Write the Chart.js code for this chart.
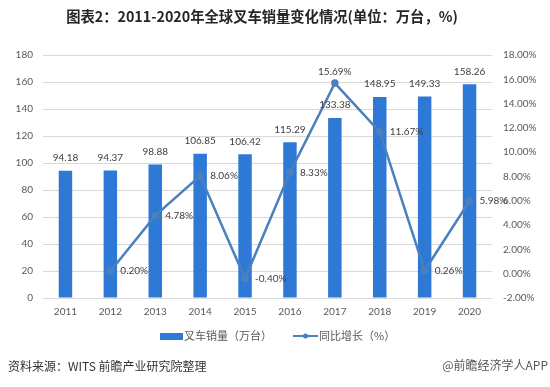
<!DOCTYPE html>
<html>
<head>
<meta charset="utf-8">
<script src="https://cdn.jsdelivr.net/npm/chart.js@4.4.0/dist/chart.umd.min.js"></script>
<style>
  body { margin: 0; background: #fff; }
  #wrap { width: 550px; height: 387px; }
</style>
</head>
<body>
<div id="wrap"><canvas id="myChart" width="550" height="387"></canvas></div>
<script>
const years = ['2011', '2012', '2013', '2014', '2015', '2016', '2017', '2018', '2019', '2020'];
const sales = [94.18, 94.37, 98.88, 106.85, 106.42, 115.29, 133.38, 148.95, 149.33, 158.26];
const growth = [null, 0.20, 4.78, 8.06, -0.40, 8.33, 15.69, 11.67, 0.26, 5.98];

const BAR_COLOR = '#2e78d6';
const LINE_COLOR = '#4a80bd';
const FONT = "Lato, 'Noto Sans CJK SC', sans-serif";
const CJK = "'Noto Sans CJK SC', Lato, sans-serif";

Chart.defaults.font.family = FONT;

const extras = {
  id: 'extras',
  afterDatasetsDraw(chart) {
    const ctx = chart.ctx;
    ctx.save();
    ctx.font = '10px ' + FONT;
    ctx.fillStyle = '#404040';
    ctx.textBaseline = 'middle';

    // bar values
    ctx.textAlign = 'center';
    chart.getDatasetMeta(1).data.forEach((el, i) => {
      ctx.fillText(sales[i].toFixed(2), el.x, el.y - 13);
    });

    // growth labels, 2017 sits above its point
    chart.getDatasetMeta(0).data.forEach((el, i) => {
      if (growth[i] == null) return;
      const txt = growth[i].toFixed(2) + '%';
      if (i === 6) {
        ctx.textAlign = 'center';
        ctx.fillText(txt, el.x, el.y - 11);
      } else {
        ctx.textAlign = 'left';
        ctx.fillText(txt, el.x + 10, el.y);
      }
    });
    ctx.restore();
  },
  afterDraw(chart) {
    const ctx = chart.ctx;
    ctx.save();

    // title
    ctx.fillStyle = '#262626';
    ctx.font = 'bold 14.3px ' + CJK;
    ctx.textAlign = 'center';
    ctx.textBaseline = 'middle';
    ctx.fillText('图表2：2011-2020年全球叉车销量变化情况(单位：万台，%)', 262, 17);

    // legend
    const ly = 336;
    ctx.fillStyle = BAR_COLOR;
    ctx.fillRect(160, ly - 3, 23, 7);
    ctx.fillStyle = '#595959';
    ctx.font = '11px ' + CJK;
    ctx.textAlign = 'left';
    ctx.fillText('叉车销量（万台）', 184, ly);

    ctx.strokeStyle = LINE_COLOR;
    ctx.lineWidth = 2;
    ctx.beginPath();
    ctx.moveTo(293, ly);
    ctx.lineTo(318, ly);
    ctx.stroke();
    ctx.fillStyle = LINE_COLOR;
    ctx.beginPath();
    ctx.arc(305.5, ly, 2.5, 0, Math.PI * 2);
    ctx.fill();
    ctx.fillStyle = '#595959';
    ctx.fillText('同比增长（%）', 319, ly);

    // source line
    ctx.fillStyle = '#333';
    ctx.font = '12px ' + CJK;
    ctx.fillText('资料来源：WITS 前瞻产业研究院整理', 8, 366);
    ctx.fillStyle = '#555';
    ctx.textAlign = 'right';
    ctx.fillText('@前瞻经济学人APP', 548, 365);

    ctx.restore();
  }
};

const ctx = document.getElementById('myChart').getContext('2d');
const chart = new Chart(ctx, {
  type: 'bar',
  data: {
    labels: years,
    datasets: [
      {
        type: 'line',
        label: '同比增长（%）',
        data: growth,
        yAxisID: 'y1',
        borderColor: LINE_COLOR,
        backgroundColor: LINE_COLOR,
        borderWidth: 2.5,
        pointRadius: 2.5,
        pointHoverRadius: 2.5,
        tension: 0,
        order: 0,
      },
      {
        type: 'bar',
        label: '叉车销量（万台）',
        data: sales,
        yAxisID: 'y',
        backgroundColor: BAR_COLOR,
        barPercentage: 0.3,
        categoryPercentage: 1,
        order: 1,
      },
    ],
  },
  options: {
    responsive: false,
    animation: false,
    layout: { padding: { top: 55, left: 0, right: 0, bottom: 0 } },
    plugins: {
      legend: { display: false },
      title: { display: false },
      tooltip: { enabled: false },
    },
    scales: {
      x: {
        offset: true,
        grid: { display: false, drawTicks: false },
        border: { display: false },
        ticks: { color: '#595959', font: { size: 10 }, padding: 8, maxRotation: 0 },
        afterFit(scale) { scale.height = 89; },
      },
      y: {
        position: 'left',
        min: 0,
        max: 180,
        ticks: { stepSize: 20, color: '#595959', font: { size: 10 }, padding: 10 },
        grid: { color: '#d9d9d9', drawTicks: false },
        border: { display: false },
        afterFit(scale) { scale.width = 43; },
      },
      y1: {
        position: 'right',
        min: -2,
        max: 18,
        ticks: {
          stepSize: 2,
          color: '#595959',
          font: { size: 10 },
          padding: 11,
          callback: (v) => v.toFixed(2) + '%',
        },
        grid: { display: false, drawTicks: false },
        border: { display: false },
        afterFit(scale) { scale.width = 58; },
      },
    },
  },
  plugins: [extras],
});
</script>
</body>
</html>
